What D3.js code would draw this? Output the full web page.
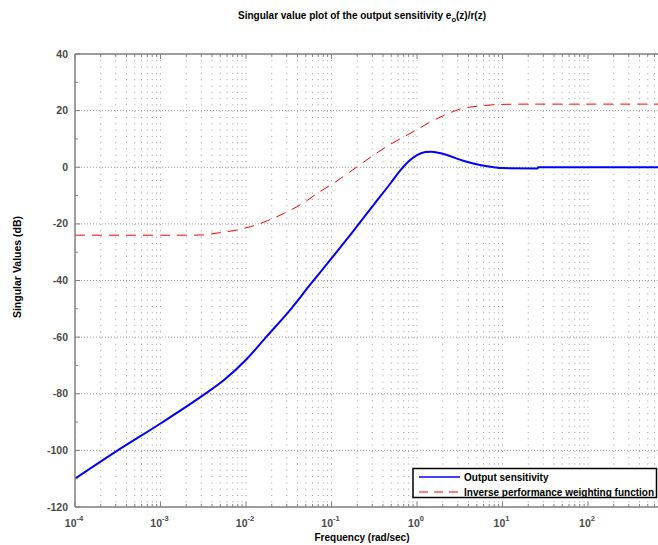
<!DOCTYPE html>
<html>
<head>
<meta charset="utf-8">
<script src="https://cdn.jsdelivr.net/npm/d3@7"></script>
<style>
  body { margin: 0; background: #fff; }
  text { font-family: "Liberation Sans", Arial, sans-serif; font-weight: bold; }
</style>
</head>
<body>
<svg id="chart" width="658" height="545"></svg>
<script>
// Frequency axis decades (exponents of 10) and singular-value ticks (dB)
const freqExponents = [-4, -3, -2, -1, 0, 1, 2, 3];
const dbTicks = [-120, -100, -80, -60, -40, -20, 0, 20, 40];

// Output sensitivity: log10(frequency) and singular value in dB
const sensLogFreq = [-4.0, -3.5, -3.0, -2.5, -2.25, -2.0, -1.75, -1.5, -1.25, -1.0,
                     -0.75, -0.5, -0.3, -0.2, -0.1, 0.0, 0.1, 0.17, 0.25, 0.35, 0.55,
                     0.75, 0.9, 1.0, 1.41, 1.42, 3.0];
const sensDb = [-110, -100, -90.5, -80.5, -75, -68, -59.5, -51, -41.5, -32.2,
                -22.7, -13, -5.3, -1.3, 2.0, 4.3, 5.4, 5.5, 5.1, 4.3, 2.2,
                0.7, 0.0, -0.3, -0.4, 0.0, 0.0];

// Inverse performance weighting function: log10(frequency) and gain in dB
const weightLogFreq = [-4.0, -3.0, -2.7, -2.5, -2.35, -2.15, -1.95, -1.75, -1.55, -1.35, -1.15,
                       -0.95, -0.75, -0.55, -0.35, -0.15, 0.0, 0.15, 0.3, 0.5, 0.75, 1.0, 1.3, 3.0];
const weightDb = [-24, -24, -24, -23.9, -23.3, -22.4, -21, -18.9, -16.2, -13, -8.9,
                  -5.1, -0.9, 3.4, 7.4, 10.8, 13.3, 15.9, 18.1, 20.5, 21.7, 22.2, 22.3, 22.3];

const seriesNames = ["Output sensitivity", "Inverse performance weighting function"];
const seriesColors = ["#0000ff", "#ff0000"];

const svg = d3.select("#chart");
const W = 658, H = 545;
svg.append("rect").attr("width", W).attr("height", H).attr("fill", "#fff");

const axLeft = 75, axTop = 54, axBottom = 507, axRight = 673.5;
const x = d3.scaleLog().domain([1e-4, 1e3]).range([axLeft, axRight]);
const y = d3.scaleLinear().domain([-120, 40]).range([axBottom, axTop]);

// Clip everything drawn inside the axes box
svg.append("clipPath").attr("id", "plotclip")
  .append("rect").attr("x", axLeft).attr("y", axTop)
  .attr("width", axRight - axLeft).attr("height", axBottom - axTop);

const plot = svg.append("g").attr("clip-path", "url(#plotclip)");

// Log-spaced grid frequencies (major + minor)
const gridFreqs = [];
freqExponents.forEach(e => {
  for (let k = 1; k <= 9; k++) {
    const f = k * Math.pow(10, e);
    if (f >= 1e-4 && f <= 1e3) gridFreqs.push({ f, major: k === 1 });
  }
});

// Vertical dotted grid
plot.append("g").selectAll("line").data(gridFreqs).join("line")
  .attr("x1", d => x(d.f)).attr("x2", d => x(d.f))
  .attr("y1", axTop).attr("y2", axBottom)
  .attr("stroke", "#9a9a9a").attr("stroke-width", 1)
  .attr("stroke-dasharray", "1,5.3");

// Horizontal dotted grid
plot.append("g").selectAll("line").data(dbTicks).join("line")
  .attr("x1", axLeft).attr("x2", axRight)
  .attr("y1", d => y(d)).attr("y2", d => y(d))
  .attr("stroke", "#9a9a9a").attr("stroke-width", 1)
  .attr("stroke-dasharray", "1,2");

// Curves
const line = d3.line()
  .x(d => x(Math.pow(10, d[0])))
  .y(d => y(d[1]))
  .curve(d3.curveMonotoneX);

const weightPts = weightLogFreq.map((v, i) => [v, weightDb[i]]);
const sensPts = sensLogFreq.map((v, i) => [v, sensDb[i]]);

plot.append("path").datum(weightPts).attr("d", line)
  .attr("fill", "none").attr("stroke", seriesColors[1]).attr("stroke-width", 1)
  .attr("stroke-dasharray", "10,7");

plot.append("path").datum(sensPts).attr("d", line)
  .attr("fill", "none").attr("stroke", seriesColors[0]).attr("stroke-width", 2);

// Axes box lines
const axisColor = "#808080";
svg.append("line").attr("x1", axLeft).attr("x2", W).attr("y1", axTop).attr("y2", axTop)
  .attr("stroke", axisColor).attr("stroke-width", 1.5);
svg.append("line").attr("x1", axLeft).attr("x2", W).attr("y1", axBottom).attr("y2", axBottom)
  .attr("stroke", axisColor).attr("stroke-width", 1.5);
svg.append("line").attr("x1", axLeft).attr("x2", axLeft).attr("y1", axTop).attr("y2", axBottom)
  .attr("stroke", axisColor).attr("stroke-width", 1.5);

// Inward ticks on bottom and top (frequency)
const ticksG = svg.append("g").attr("stroke", axisColor).attr("stroke-width", 1);
gridFreqs.forEach(d => {
  const len = d.major ? 5 : 3;
  const xp = x(d.f);
  ticksG.append("line").attr("x1", xp).attr("x2", xp).attr("y1", axBottom).attr("y2", axBottom - len);
  ticksG.append("line").attr("x1", xp).attr("x2", xp).attr("y1", axTop).attr("y2", axTop + len);
});
// Inward ticks on left (dB), major every 20, minor every 10
d3.range(-120, 41, 10).forEach(v => {
  const len = v % 20 === 0 ? 5 : 3;
  ticksG.append("line").attr("x1", axLeft).attr("x2", axLeft + len).attr("y1", y(v)).attr("y2", y(v));
});

// Y tick labels
svg.append("g").selectAll("text").data(dbTicks).join("text")
  .attr("x", axLeft - 7).attr("y", d => y(d) + 3.5)
  .attr("text-anchor", "end").attr("font-size", 10.5).attr("fill", "#4a4a4a")
  .text(d => d);

// X tick labels as powers of ten
freqExponents.filter(e => e <= 2).forEach(e => {
  const t = svg.append("text")
    .attr("x", x(Math.pow(10, e)) - 1).attr("y", 527)
    .attr("text-anchor", "middle").attr("font-size", 10.5).attr("fill", "#4a4a4a");
  t.append("tspan").text("10");
  t.append("tspan").attr("dy", -6).attr("font-size", 7.5).text(e);
});

// Axis labels and title
svg.append("text").attr("x", 362).attr("y", 541).attr("text-anchor", "middle")
  .attr("font-size", 10).attr("fill", "#000").text("Frequency (rad/sec)");

svg.append("text").attr("transform", "translate(21,267) rotate(-90)")
  .attr("text-anchor", "middle").attr("font-size", 10.5).attr("fill", "#000")
  .text("Singular Values (dB)");

const title = svg.append("text").attr("x", 362).attr("y", 19).attr("text-anchor", "middle")
  .attr("font-size", 10).attr("fill", "#000");
title.append("tspan").text("Singular value plot of the output sensitivity e");
title.append("tspan").attr("dy", 3).attr("font-size", 7.5).text("o");
title.append("tspan").attr("dy", -3).text("(z)/r(z)");

// Legend
const lg = svg.append("g");
lg.append("rect").attr("x", 413).attr("y", 468.5).attr("width", 243.5).attr("height", 29)
  .attr("fill", "#fff").attr("stroke", "#000").attr("stroke-width", 1.5);
seriesNames.forEach((name, i) => {
  const yy = 477 + i * 15;
  lg.append("line").attr("x1", 419).attr("x2", 460).attr("y1", yy).attr("y2", yy)
    .attr("stroke", seriesColors[i]).attr("stroke-width", i === 0 ? 1.5 : 1.2)
    .attr("stroke-dasharray", i === 1 ? "9,6" : null);
  lg.append("text").attr("x", 464).attr("y", yy + 3.5).attr("font-size", 10)
    .attr("fill", "#000").text(name);
});
</script>
</body>
</html>
